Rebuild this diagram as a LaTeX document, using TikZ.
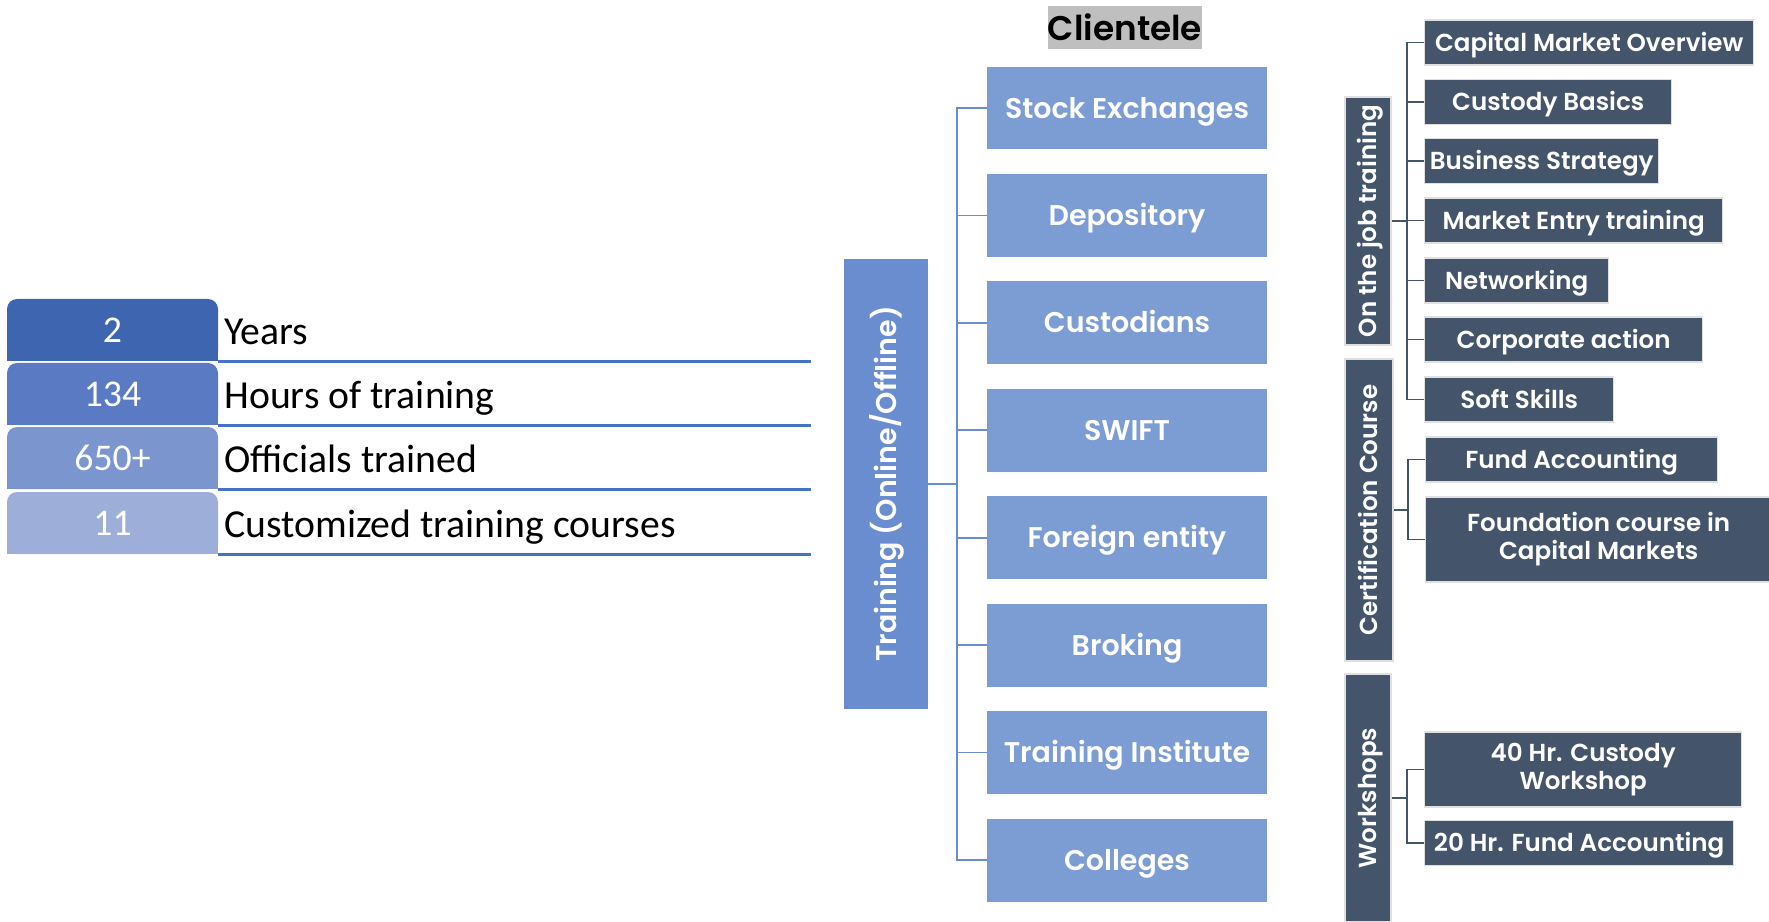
\documentclass[tikz,border=0pt]{standalone}
\usepackage{fontspec}
\setmainfont{Carlito}
\newfontfamily\gothic{Poppins}[BoldFont={Poppins SemiBold}]
\usepackage{tikz}
\usetikzlibrary{positioning}
\usepackage{xcolor}
\definecolor{rowline}{HTML}{4472C4}
\definecolor{statA}{HTML}{3E66B0}
\definecolor{statB}{HTML}{5A7BC3}
\definecolor{statC}{HTML}{7B96CE}
\definecolor{statD}{HTML}{9DAED9}
\definecolor{trainblue}{HTML}{6A8DD0}
\definecolor{clientblue}{HTML}{7C9CD4}
\definecolor{slate}{HTML}{44546A}
\definecolor{titlegrey}{HTML}{BFBFBF}

\tikzset{
  statnum/.style={minimum width=4.22cm, minimum height=1.24cm, inner sep=0pt, text=white, font=\fontsize{21.5}{24}\selectfont},
  statlabel/.style={anchor=base west, inner sep=0pt, font=\fontsize{22.6}{25}\selectfont},
  clientbox/.style={fill=clientblue, minimum width=5.6cm, minimum height=1.66cm, inner sep=0pt, text=white, text height=11.4pt, text depth=0pt, font=\gothic\bfseries\fontsize{16.2}{19}\selectfont},
  catbox/.style={fill=slate, draw=black!12, line width=0.8pt, rotate=90, minimum height=0.92cm, inner sep=0pt, text=white, text height=9.8pt, text depth=0pt, font=\gothic\bfseries\fontsize{14}{17}\selectfont},
  topicbox/.style={fill=slate, draw=black!12, line width=0.8pt, anchor=west, minimum height=0.9cm, inner sep=0pt, text=white, text height=9.8pt, text depth=0pt, font=\gothic\bfseries\fontsize{14}{16}\selectfont},
  twoline/.style={align=center, text height=, text depth=},
  bluetree/.style={draw=trainblue, line width=1pt},
  slatetree/.style={draw=slate, line width=1pt},
  rowrule/.style={draw=rowline, line width=1.4pt}
}

\newcommand\statrow[5]{
  \fill[#3, rounded corners=0.2cm] (7,#2-31) rectangle (218,#2+31);
  \fill[#3] (7,#2) rectangle (218,#2+31);
  \node[statnum] (#1) at (112.5,#2) {#4};
  \node[statlabel] (#1txt) at (224,#2+14) {#5};
  \draw[rowrule] (#1.south east) -- ++(593,0);
}

\begin{document}
\begin{tikzpicture}[x=0.02cm, y=-0.02cm]
    \useasboundingbox (0,0) rectangle (1769,922);

    \statrow{years}{330}{statA}{2}{Years}
    \statrow{hours}{394}{statB}{134}{Hours of training}
    \statrow{officials}{458}{statC}{650+}{Officials trained}
    \statrow{courses}{523}{statD}{11}{Customized training courses}

    \node[fill=trainblue, rotate=90, minimum width=9cm, minimum height=1.68cm, inner sep=0pt, text=white, text height=11.4pt, text depth=0pt, font=\gothic\bfseries\fontsize{16.2}{19}\selectfont] (train) at (886,484) {Training (Online/Offline)};

    \node[fill=titlegrey, minimum width=3.04cm, minimum height=0.86cm, inner sep=0pt, font=\gothic\bfseries\fontsize{19.5}{22}\selectfont] (clientele) at (1125,27.5) {Clientele};

    \node[clientbox] (exch) at (1127,108) {Stock Exchanges};
    \node[clientbox, below=0.475cm of exch] (depo) {Depository};
    \node[clientbox, below=0.475cm of depo] (cust) {Custodians};
    \node[clientbox, below=0.475cm of cust] (swift) {SWIFT};
    \node[clientbox, below=0.475cm of swift] (foreign) {Foreign entity};
    \node[clientbox, below=0.475cm of foreign] (broking) {Broking};
    \node[clientbox, below=0.475cm of broking] (institute) {Training Institute};
    \node[clientbox, below=0.475cm of institute] (colleges) {Colleges};

    \coordinate (trainbus) at (957,484);
    \draw[bluetree] (train.south) -- (trainbus);
    \draw[bluetree] (trainbus) |- (exch.west);
    \draw[bluetree] (trainbus) |- (depo.west);
    \draw[bluetree] (trainbus) |- (cust.west);
    \draw[bluetree] (trainbus) |- (swift.west);
    \draw[bluetree] (trainbus) |- (foreign.west);
    \draw[bluetree] (trainbus) |- (broking.west);
    \draw[bluetree] (trainbus) |- (institute.west);
    \draw[bluetree] (trainbus) |- (colleges.west);

    % on the job training
    \node[catbox, minimum width=4.96cm] (ojt) at (1368,221) {On the job training};
    \node[topicbox, minimum width=6.58cm] (cmo) at (1424,42.5) {Capital Market Overview};
    \node[topicbox, minimum width=4.94cm] (basics) at (1424,102) {Custody Basics};
    \node[topicbox, minimum width=4.68cm] (strategy) at (1424,161) {Business Strategy};
    \node[topicbox, minimum width=5.96cm] (entry) at (1424,220.5) {Market Entry training};
    \node[topicbox, minimum width=3.68cm] (network) at (1424,280.5) {Networking};
    \node[topicbox, minimum width=5.56cm] (corp) at (1424,339.5) {Corporate action};
    \node[topicbox, minimum width=3.78cm] (soft) at (1424,399.5) {Soft Skills};

    \coordinate (ojtbus) at (1407,221);
    \draw[slatetree] (ojt.south) -- (ojtbus);
    \draw[slatetree] (ojtbus) |- (cmo.west);
    \draw[slatetree] (ojtbus) |- (basics.west);
    \draw[slatetree] (ojtbus) |- (strategy.west);
    \draw[slatetree] (ojtbus) |- (entry.west);
    \draw[slatetree] (ojtbus) |- (network.west);
    \draw[slatetree] (ojtbus) |- (corp.west);
    \draw[slatetree] (ojtbus) |- (soft.west);

    % certification
    \node[catbox, minimum width=6.04cm, minimum height=0.96cm] (cert) at (1369,510) {Certification Course};
    \node[topicbox, minimum width=5.84cm] (fundacc) at (1425,459.5) {Fund Accounting};
    \node[topicbox, twoline, minimum width=6.92cm, minimum height=1.7cm] (found) at (1425,539.5) {Foundation course in\\Capital Markets};

    \coordinate (certbus) at (1408,510);
    \draw[slatetree] (cert.south) -- (certbus);
    \draw[slatetree] (certbus) |- (fundacc.west);
    \draw[slatetree] (certbus) |- (found.west);

    % workshops
    \node[catbox, minimum width=4.96cm] (works) at (1368,798) {Workshops};
    \node[topicbox, twoline, minimum width=6.34cm, minimum height=1.5cm] (custody40) at (1424,769.5) {40 Hr. Custody\\Workshop};
    \node[topicbox, minimum width=6.18cm] (fund20) at (1424,843) {20 Hr. Fund Accounting};

    \coordinate (worksbus) at (1407,798);
    \draw[slatetree] (works.south) -- (worksbus);
    \draw[slatetree] (worksbus) |- (custody40.west);
    \draw[slatetree] (worksbus) |- (fund20.west);
\end{tikzpicture}
\end{document}
